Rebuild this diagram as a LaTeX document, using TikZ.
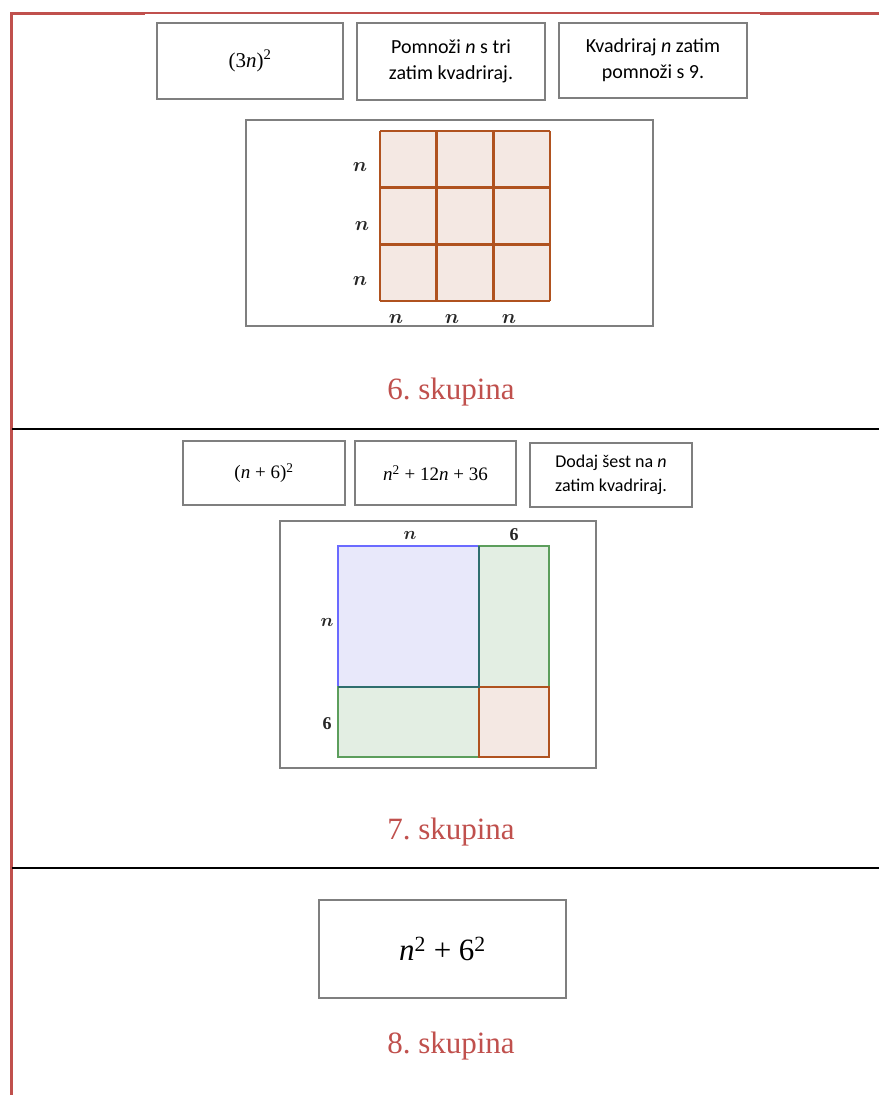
\documentclass[tikz,border=0pt]{standalone}
\usepackage{fontspec}
\usepackage{amsmath,bm}
\setmainfont{Liberation Serif}
\newfontfamily\calib{Carlito}
\newfontfamily\cambr{Liberation Serif}
\definecolor{redline}{HTML}{C0504D}
\definecolor{boxgray}{HTML}{7F7F7F}
\definecolor{gridor}{HTML}{B0521F}
\definecolor{gridfill}{HTML}{F4E8E3}
\definecolor{blst}{HTML}{6A6AFF}
\definecolor{blfill}{HTML}{E8E8FA}
\definecolor{grst}{HTML}{5C9E5C}
\definecolor{grfill}{HTML}{E3EEE3}
\definecolor{tealst}{HTML}{2F6E6E}
\begin{document}
\frenchspacing
\begin{tikzpicture}[x=1pt,y=-1pt,
  card/.style={draw=boxgray,line width=1.3pt,fill=white,inner sep=2pt,align=center,font=\calib\fontsize{20}{26}\selectfont},
  cardsm/.style={card,font=\calib\fontsize{18}{24}\selectfont},
  panel/.style={draw=boxgray,line width=1.3pt},
  lab/.style={inner sep=0pt,scale=2,text=black!85},
  labsm/.style={inner sep=0pt,scale=1.8,text=black!85},
  grp/.style={text=redline,inner sep=0pt,font=\fontsize{31}{34}\selectfont}]
\useasboundingbox (0,0) rectangle (879,1095);
\fill[white] (0,0) rectangle (879,1095);
% frame lines
\draw[redline,line width=3pt] (10,13) -- (145,13);
\draw[redline,line width=2pt] (145,13) -- (760,13);
\draw[redline,line width=3pt] (760,13) -- (879,13);
\draw[redline,line width=3pt] (11,12) -- (11,1095);
\draw[black,line width=2pt] (12,429) -- (140,429);
\draw[black,line width=1.2pt] (140,429) -- (760,429);
\draw[black,line width=2pt] (760,429) -- (879,429);
\draw[black,line width=2pt] (12,868) -- (879,868);

% section 6
\node[card,minimum width=186pt,minimum height=76pt,font=\cambr\fontsize{21}{26}\selectfont] (a1) at (250,61) {(3\textit{n})\textsuperscript{2}};
\node[card,minimum width=188pt,minimum height=77pt] (b1) at (451,61.5) {Pomnoži \textit{n} s tri\\zatim kvadriraj.};
\node[card,minimum width=188pt,minimum height=75pt] (c1) at (653,60.5) {Kvadriraj \textit{n} zatim\\pomnoži s 9.};
\node[panel,minimum width=407pt,minimum height=206pt] (p1) at (449.5,223) {};
\fill[gridfill] (380,131) rectangle (550,301);
\foreach \i in {0,1,2,3}{
  \draw[gridor,line width=2.6pt] (380+56.67*\i,131) -- (380+56.67*\i,301);
  \draw[gridor,line width=2.6pt] (380,131+56.67*\i) -- (550,131+56.67*\i);
}
\node[lab] (l1) at (360,167) {$\bm{n}$};
\node[lab] (l2) at (362,226) {$\bm{n}$};
\node[lab] (l3) at (360,281) {$\bm{n}$};
\node[lab] (l4) at (396,319) {$\bm{n}$};
\node[lab] (l5) at (452,319) {$\bm{n}$};
\node[lab] (l6) at (509,319) {$\bm{n}$};
\node[grp] (g6) at (451,392) {6. skupina};

% section 7
\node[cardsm,minimum width=162pt,minimum height=64pt,font=\cambr\fontsize{19}{24}\selectfont] (a2) at (264,473) {(\textit{n} + 6)\textsuperscript{2}};
\node[cardsm,minimum width=161pt,minimum height=64pt,font=\cambr\fontsize{19}{24}\selectfont] (b2) at (435.5,473) {\textit{n}\textsuperscript{2} + 12\textit{n} + 36};
\node[cardsm,minimum width=162pt,minimum height=64pt] (c2) at (611,475) {Dodaj šest na \textit{n}\\zatim kvadriraj.};
\node[panel,minimum width=316pt,minimum height=247pt] (p2) at (438,644.5) {};
\filldraw[fill=blfill,draw=blst,line width=1.8pt] (338,546) rectangle (479,687);
\filldraw[fill=grfill,draw=grst,line width=1.8pt] (479,546) rectangle (549,687);
\filldraw[fill=grfill,draw=grst,line width=1.8pt] (338,687) rectangle (479,757);
\filldraw[fill=gridfill,draw=gridor,line width=1.8pt] (479,687) rectangle (549,757);
\draw[tealst,line width=1.8pt] (338,687) -- (479,687) -- (479,546);
\node[labsm] (m1) at (410,535) {$\bm{n}$};
\node[labsm] (m2) at (514,535) {$\mathbf{6}$};
\node[labsm] (m3) at (327,622) {$\bm{n}$};
\node[labsm] (m4) at (327,724) {$\mathbf{6}$};
\node[grp] (g7) at (451,832) {7. skupina};

% section 8
\node[card,minimum width=247pt,minimum height=98pt,font=\cambr\fontsize{31}{36}\selectfont] (a3) at (442.5,949) {\textit{n}\textsuperscript{2} + 6\textsuperscript{2}};
\node[grp] (g8) at (451,1046) {8. skupina};
\end{tikzpicture}
\end{document}
